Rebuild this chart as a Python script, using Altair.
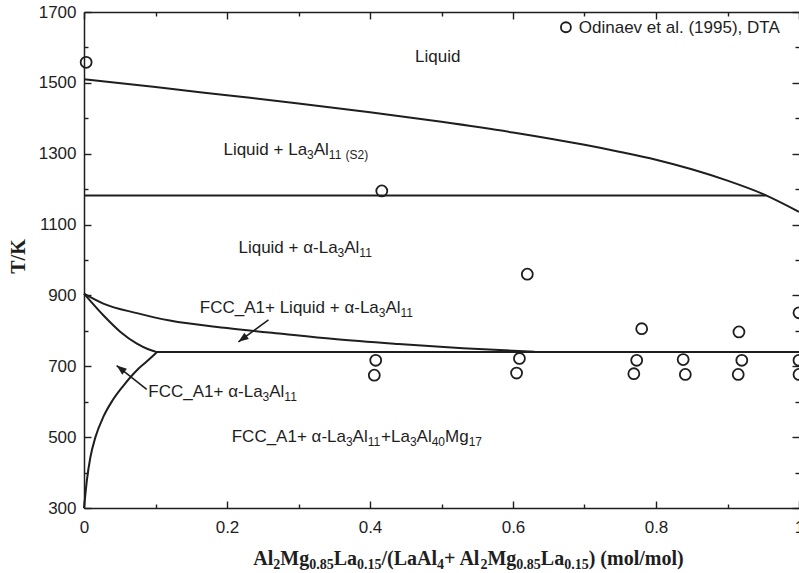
import math
import re
import altair as alt
import pandas as pd

# ---------------- data ----------------
liq_x = [0.0, 0.1, 0.2, 0.3, 0.4, 0.5, 0.6, 0.7, 0.75, 0.8, 0.85, 0.9, 0.95, 1.0]
liq_T = [1510, 1488, 1465, 1442, 1417, 1390, 1360, 1325, 1305, 1283, 1256, 1224, 1186, 1136]

peri_x = [0.0, 0.954]
peri_T = [1182, 1182]

fcc_x = [0.0, 0.027, 0.074, 0.12, 0.2, 0.28, 0.35, 0.44, 0.53, 0.63]
fcc_T = [905, 877, 850, 829, 808, 791, 777, 763, 751, 741]

solv_x = [0.0, 0.027, 0.051, 0.074, 0.09, 0.102]
solv_T = [905, 844, 797, 764, 748, 740]

low_x = [0.0, 0.002, 0.004, 0.009, 0.016, 0.027, 0.04, 0.055, 0.074, 0.088, 0.102]
low_T = [300, 340, 378, 444, 500, 557, 604, 645, 689, 714, 740]

eut_x = [0.102, 1.0]
eut_T = [740, 740]

pts_x = [0.003, 0.4165, 0.62, 0.78, 0.916, 1.0,
         0.408, 0.406, 0.609, 0.605, 0.773, 0.769, 0.838, 0.841, 0.92, 0.915, 1.0, 1.0]
pts_T = [1558, 1195, 960, 806, 797, 851,
         717, 675, 722, 681, 717, 679, 719, 677, 717, 677, 717, 677]

# region labels: "_{..}" marks a subscript
lab_text = ["Liquid",
            "Liquid + La_{3}Al_{11}_{ (S2)}",
            "Liquid + \u03b1-La_{3}Al_{11}",
            "FCC_A1+ Liquid + \u03b1-La_{3}Al_{11}",
            "FCC_A1+ \u03b1-La_{3}Al_{11}",
            "FCC_A1+ \u03b1-La_{3}Al_{11}+La_{3}Al_{40}Mg_{17}",
            "Odinaev et al. (1995), DTA"]
lab_x = [0.463, 0.195, 0.216, 0.162, 0.090, 0.2066, 0.692]
lab_T = [1558, 1296, 1019, 850, 614, 485.5, 1640]

legend_x = [0.674]
legend_T = [1657]

arrow_x0 = [0.258, 0.0877]
arrow_T0 = [831, 635]
arrow_x1 = [0.216, 0.0457]
arrow_T1 = [769, 702]

x_title = "Al_{2}Mg_{0.85}La_{0.15}/(LaAl_{4}+ Al_{2}Mg_{0.85}La_{0.15}) (mol/mol)"
x_title_x = 0.2368
x_title_T = 139
y_title = "T/K"

x_major = [0.0, 0.2, 0.4, 0.6, 0.8, 1.0]
x_minor = [0.1, 0.3, 0.5, 0.7, 0.9]
y_major = [300, 500, 700, 900, 1100, 1300, 1500, 1700]
y_minor = [400, 600, 800, 1000, 1200, 1400, 1600]

# ---------------- geometry / fonts ----------------
W, H = 715, 496
kx, ky = W / 1.0, H / 1400.0
INK = "#1e1e1e"
SANS = "Liberation Sans"
SERIF = "Liberation Serif"

# advance widths (1/1000 em) of Arial-metric and Times-Bold-metric fonts
SANS_W = {" ": 278, "(": 333, ")": 333, "+": 584, "-": 333, ".": 278,
          ",": 278, "_": 556, "A": 667, "C": 722, "D": 722, "F": 611, "L": 556, "M": 833,
          "O": 778, "S": 667, "T": 611, "a": 556, "d": 556, "e": 556, "g": 556, "i": 222,
          "l": 222, "n": 556, "q": 556, "t": 278, "u": 556, "v": 500, "\u03b1": 578}
SERIF_BW = {" ": 250, "(": 333, ")": 333, "+": 570, ".": 250, "/": 278, "A": 722, "L": 667,
            "M": 944, "a": 500, "g": 500, "l": 278, "m": 833, "o": 500}
for d in "0123456789":
    SANS_W[d] = 556
    SERIF_BW[d] = 500


def segments(s):
    out = []
    pos = 0
    for m in re.finditer(r"_\{([^}]*)\}", s):
        if m.start() > pos:
            out.append((s[pos:m.start()], False))
        out.append((m.group(1), True))
        pos = m.end()
    if pos < len(s):
        out.append((s[pos:], False))
    return out


def width(txt, fs, widths):
    return sum(widths.get(c, 556) for c in txt) * fs / 1000.0


def layout(s, x0, T0, size, sub_size, sub_drop, widths):
    rows = []
    xpx = 0.0
    for txt, is_sub in segments(s):
        fs = sub_size if is_sub else size
        lead = txt[:len(txt) - len(txt.lstrip(" "))]
        xpx += width(lead, fs, widths)
        body = txt.lstrip(" ")
        rows.append({"text": body, "x": x0 + xpx / kx,
                     "T": T0 - (sub_drop / ky if is_sub else 0.0), "fs": fs})
        xpx += width(body, fs, widths)
    return rows


lab_rows = []
for t, a, b in zip(lab_text, lab_x, lab_T):
    lab_rows += layout(t, a, b, 17, 12, 4.2, SANS_W)
lab_df = pd.DataFrame(lab_rows)
title_df = pd.DataFrame(layout(x_title, x_title_x, x_title_T, 20, 14, 4.3, SERIF_BW))

segs = [("liq", liq_x, liq_T), ("peri", peri_x, peri_T), ("fcc", fcc_x, fcc_T),
        ("solv", solv_x, solv_T), ("low", low_x, low_T), ("eut", eut_x, eut_T)]
rows = []
for name, xs_, ts_ in segs:
    for i, (a, b) in enumerate(zip(xs_, ts_)):
        rows.append({"seg": name, "i": i, "x": a, "T": b})
lines_df = pd.DataFrame(rows)
pts_df = pd.DataFrame({"x": pts_x, "T": pts_T})
leg_df = pd.DataFrame({"x": legend_x, "T": legend_T})

arow, head = [], []
for k in range(len(arrow_x0)):
    arow.append({"a": k, "i": 0, "x": arrow_x0[k], "T": arrow_T0[k]})
    arow.append({"a": k, "i": 1, "x": arrow_x1[k], "T": arrow_T1[k]})
    dxp = (arrow_x1[k] - arrow_x0[k]) * kx
    dyp = -(arrow_T1[k] - arrow_T0[k]) * ky
    head.append({"x": arrow_x1[k], "T": arrow_T1[k],
                 "ang": math.degrees(math.atan2(dxp, -dyp)) % 360})
arrow_df = pd.DataFrame(arow)
head_df = pd.DataFrame(head)

# ---------------- scales / axes ----------------
xs = alt.Scale(domain=[0, 1], nice=False, zero=False)
ys = alt.Scale(domain=[300, 1700], nice=False, zero=False)


def axis(orient, values, size, domain=False, labels=False):
    return alt.Axis(orient=orient, values=values, tickSize=alt.ExprRef(expr=str(-size)),
                    domain=domain, labels=labels, grid=False, title="",
                    tickColor=INK, tickWidth=1.4, domainColor=INK, domainWidth=1.5,
                    labelFlush=False, labelOverlap=False, labelBound=False)


x_bot_major = alt.Axis(orient="bottom", values=x_major, tickSize=alt.ExprRef(expr="-7"),
                       domain=True, grid=False, format=".1~f", title="",
                       tickColor=INK, tickWidth=1.4, domainColor=INK, domainWidth=1.5,
                       labelFlush=False, labelOverlap=False, labelBound=False,
                       labelFont=SANS, labelFontSize=17, labelColor=INK, labelPadding=18)
y_left_major = alt.Axis(orient="left", values=y_major, tickSize=alt.ExprRef(expr="-7"),
                        domain=True, grid=False, format="d",
                        tickColor=INK, tickWidth=1.4, domainColor=INK, domainWidth=1.5,
                        labelOverlap=False, labelBound=False, labelFlush=False,
                        labelFont=SANS, labelFontSize=17, labelColor=INK, labelPadding=15,
                        title=y_title, titleFont=SERIF, titleFontWeight="bold",
                        titleFontSize=20, titleColor=INK, titleX=-66, titleY=244,
                        titleAngle=270, titleAlign="center", titleBaseline="middle",
                        titleAnchor="start")

lines = alt.Chart(lines_df).mark_line(color=INK, strokeWidth=2, interpolate="monotone").encode(
    x=alt.X("x:Q", scale=xs, axis=x_bot_major),
    y=alt.Y("T:Q", scale=ys, axis=y_left_major),
    detail="seg:N",
    order="i:Q",
)

pts = alt.Chart(pts_df).mark_point(shape="circle", filled=False, color=INK,
                                   strokeWidth=1.8, size=120, opacity=1).encode(
    x=alt.X("x:Q", scale=xs, axis=axis("bottom", x_minor, 4)),
    y=alt.Y("T:Q", scale=ys, axis=axis("left", y_minor, 4)),
)

labels = alt.Chart(lab_df).mark_text(align="left", baseline="alphabetic", font=SANS,
                                     color=INK).encode(
    x=alt.X("x:Q", scale=xs, axis=axis("top", x_major, 7, domain=True)),
    y=alt.Y("T:Q", scale=ys, axis=axis("right", y_major, 7)),
    text="text:N",
    size=alt.Size("fs:Q", scale=None),
)

arrows = alt.Chart(arrow_df).mark_line(color=INK, strokeWidth=1.6).encode(
    x=alt.X("x:Q", scale=xs, axis=axis("top", x_minor, 4)),
    y=alt.Y("T:Q", scale=ys, axis=axis("right", y_minor, 4)),
    detail="a:N",
    order="i:Q",
)

heads = alt.Chart(head_df).mark_point(shape="M0,0L-0.6,1.6L0.6,1.6Z", filled=True,
                                      color=INK, size=160, opacity=1).encode(
    x=alt.X("x:Q", scale=xs, axis=None),
    y=alt.Y("T:Q", scale=ys, axis=None),
    angle=alt.Angle("ang:Q", scale=None),
)

leg_pt = alt.Chart(leg_df).mark_point(shape="circle", filled=False, color=INK,
                                      strokeWidth=1.8, size=100, opacity=1).encode(
    x=alt.X("x:Q", scale=xs, axis=None),
    y=alt.Y("T:Q", scale=ys, axis=None),
)

xtitle = alt.Chart(title_df).mark_text(align="left", baseline="alphabetic", font=SERIF,
                                       fontWeight="bold", color=INK).encode(
    x=alt.X("x:Q", scale=xs, axis=None),
    y=alt.Y("T:Q", scale=ys, axis=None),
    text="text:N",
    size=alt.Size("fs:Q", scale=None),
)

chart = alt.layer(lines, pts, labels, arrows, heads, leg_pt, xtitle).resolve_axis(
    x="independent", y="independent"
).properties(
    width=W, height=H,
    autosize=alt.AutoSizeParams(type="none"),
    padding={"left": 84, "top": 12, "right": 0, "bottom": 65},
    background="white",
).configure_view(strokeWidth=0)

chart.save("out.html", embed_options={"renderer": "svg", "actions": False})
